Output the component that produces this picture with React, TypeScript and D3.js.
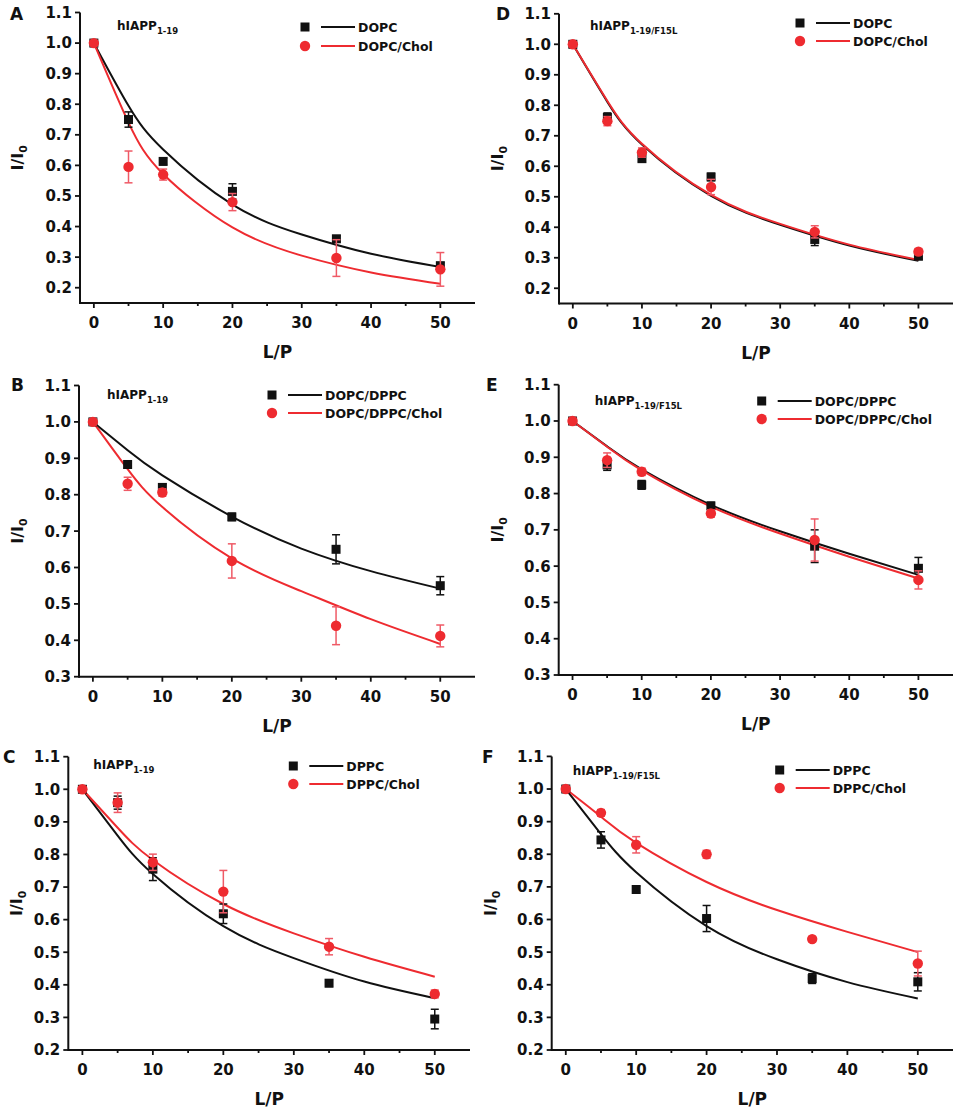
import React from "react";
import * as d3 from "d3";

// ---------- data ----------
const lpValues = [0, 5, 10, 20, 35, 50];
const fitLp = [0, 5, 10, 20, 30, 40, 50];
const xTicks = [0, 10, 20, 30, 40, 50];
const xMinorTicks = [5, 15, 25, 35, 45];
const yTicksA = [0.2, 0.3, 0.4, 0.5, 0.6, 0.7, 0.8, 0.9, 1.0, 1.1];
const yTicksB = [0.3, 0.4, 0.5, 0.6, 0.7, 0.8, 0.9, 1.0, 1.1];

const panelLetters = ["A", "D", "B", "E", "C", "F"];
const peptideSubs = ["1-19", "1-19/F15L", "1-19", "1-19/F15L", "1-19", "1-19/F15L"];
const blackLabels = ["DOPC", "DOPC", "DOPC/DPPC", "DOPC/DPPC", "DPPC", "DPPC"];
const redLabels = ["DOPC/Chol", "DOPC/Chol", "DOPC/DPPC/Chol", "DOPC/DPPC/Chol", "DPPC/Chol", "DPPC/Chol"];

// Panel A
const aBlack = [1.0, 0.75, 0.613, 0.515, 0.36, 0.272];
const aBlackErr = [0.008, 0.025, 0.01, 0.025, 0.01, 0.01];
const aRed = [1.0, 0.595, 0.57, 0.48, 0.297, 0.26];
const aRedErr = [0.008, 0.052, 0.018, 0.028, 0.06, 0.055];
const aBlackFit = [1.0, 0.795, 0.652, 0.472, 0.374, 0.311, 0.268];
const aRedFit = [1.0, 0.74, 0.572, 0.397, 0.305, 0.25, 0.213];

// Panel D
const dBlack = [1.0, 0.76, 0.625, 0.565, 0.36, 0.305];
const dBlackErr = [0.008, 0.015, 0.01, 0.012, 0.02, 0.01];
const dRed = [1.0, 0.748, 0.645, 0.532, 0.385, 0.32];
const dRedErr = [0.008, 0.015, 0.015, 0.025, 0.02, 0.01];
const dBlackFit = [1.0, 0.811, 0.671, 0.503, 0.408, 0.34, 0.29];
const dRedFit = [1.0, 0.814, 0.674, 0.506, 0.411, 0.343, 0.293];

// Panel B
const bBlack = [1.0, 0.883, 0.82, 0.739, 0.65, 0.55];
const bBlackErr = [0.008, 0.01, 0.01, 0.01, 0.04, 0.025];
const bRed = [1.0, 0.83, 0.806, 0.618, 0.44, 0.412];
const bRedErr = [0.008, 0.018, 0.01, 0.047, 0.052, 0.03];
const bBlackFit = [1.0, 0.922, 0.853, 0.74, 0.652, 0.59, 0.542];
const bRedFit = [1.0, 0.87, 0.766, 0.625, 0.535, 0.458, 0.39];

// Panel E
const eBlack = [1.0, 0.879, 0.824, 0.766, 0.655, 0.594];
const eBlackErr = [0.008, 0.015, 0.012, 0.01, 0.045, 0.03];
const eRed = [1.0, 0.892, 0.86, 0.745, 0.672, 0.562];
const eRedErr = [0.008, 0.02, 0.01, 0.01, 0.058, 0.025];
const eBlackFit = [1.0, 0.93, 0.867, 0.769, 0.696, 0.634, 0.576];
const eRedFit = [1.0, 0.929, 0.864, 0.764, 0.69, 0.626, 0.566];

// Panel C
const cBlack = [1.0, 0.959, 0.755, 0.618, 0.405, 0.295];
const cBlackErr = [0.008, 0.02, 0.035, 0.03, 0.01, 0.03];
const cRed = [1.0, 0.959, 0.776, 0.686, 0.517, 0.372];
const cRedErr = [0.008, 0.03, 0.025, 0.065, 0.025, 0.012];
const cBlackFit = [1.0, 0.858, 0.74, 0.58, 0.482, 0.41, 0.359];
const cRedFit = [1.0, 0.882, 0.783, 0.648, 0.558, 0.486, 0.425];

// Panel F
const fBlack = [1.0, 0.844, 0.692, 0.603, 0.419, 0.409];
const fBlackErr = [0.008, 0.025, 0.01, 0.04, 0.015, 0.028];
const fRed = [1.0, 0.927, 0.829, 0.8, 0.54, 0.465];
const fRedErr = [0.008, 0.01, 0.025, 0.012, 0.008, 0.038];
const fBlackFit = [1.0, 0.862, 0.745, 0.58, 0.478, 0.408, 0.358];
const fRedFit = [1.0, 0.915, 0.835, 0.715, 0.629, 0.562, 0.5];

const seriesBlack = [aBlack, dBlack, bBlack, eBlack, cBlack, fBlack];
const seriesBlackErr = [aBlackErr, dBlackErr, bBlackErr, eBlackErr, cBlackErr, fBlackErr];
const seriesRed = [aRed, dRed, bRed, eRed, cRed, fRed];
const seriesRedErr = [aRedErr, dRedErr, bRedErr, eRedErr, cRedErr, fRedErr];
const fitsBlack = [aBlackFit, dBlackFit, bBlackFit, eBlackFit, cBlackFit, fBlackFit];
const fitsRed = [aRedFit, dRedFit, bRedFit, eRedFit, cRedFit, fRedFit];
const yDomains = [[0.15, 1.1], [0.15, 1.1], [0.3, 1.1], [0.3, 1.1], [0.2, 1.1], [0.2, 1.1]];
const yTickSets = [yTicksA, yTicksA, yTicksB, yTicksB, yTicksA, yTicksA];

// ---------- layout (positions only) ----------
const layouts = [
  { left: 80, right: 475, top: 12.5, bottom: 303, letterX: 10, letterY: 20, titleDx: 37, titleDy: 17, legDx: 225, legY: 27, legGap: 19, ylabDx: -57 },
  { left: 559, right: 953, top: 13.8, bottom: 303.5, letterX: 496, letterY: 20, titleDx: 31, titleDy: 16, legDx: 241, legY: 23, legGap: 18, ylabDx: -56 },
  { left: 79, right: 475, top: 385.5, bottom: 676.7, letterX: 11, letterY: 391, titleDx: 28, titleDy: 13, legDx: 193, legY: 395, legGap: 18, ylabDx: -56 },
  { left: 558.7, right: 953, top: 384.7, bottom: 675, letterX: 486, letterY: 391, titleDx: 36, titleDy: 20, legDx: 203, legY: 401, legGap: 18, ylabDx: -56 },
  { left: 68.3, right: 470, top: 756.7, bottom: 1050, letterX: 3, letterY: 763, titleDx: 25, titleDy: 12, legDx: 225, legY: 766, legGap: 18, ylabDx: -46 },
  { left: 551.7, right: 953, top: 756.4, bottom: 1050, letterX: 482, letterY: 763, titleDx: 21, titleDy: 19, legDx: 228, legY: 770, legGap: 18, ylabDx: -56 },
];

const BLACK = "#111";
const RED = "#ee2b30";
const RED_ERR = "#ef5a66";
const FONT = "'DejaVu Sans', 'Liberation Sans', Arial, sans-serif";

function Panel({ i }: { i: number }) {
  const L = layouts[i];
  const x = d3.scaleLinear().domain([-2, 55]).range([L.left, L.right]);
  const y = d3.scaleLinear().domain(yDomains[i]).range([L.bottom, L.top]);
  const line = d3
    .line<[number, number]>()
    .x((d) => x(d[0]))
    .y((d) => y(d[1]))
    .curve(d3.curveNatural);
  const fitB: [number, number][] = fitLp.map((v, k) => [v, fitsBlack[i][k]]);
  const fitR: [number, number][] = fitLp.map((v, k) => [v, fitsRed[i][k]]);
  const capW = 4;

  const errBars = (vals: number[], errs: number[], color: string, key: string) =>
    lpValues.map((lv, k) => {
      const cx = x(lv);
      const y1 = y(vals[k] + errs[k]);
      const y2 = y(vals[k] - errs[k]);
      return (
        <g key={key + k} stroke={color} strokeWidth={1.5}>
          <line x1={cx} x2={cx} y1={y1} y2={y2} />
          <line x1={cx - capW} x2={cx + capW} y1={y1} y2={y1} />
          <line x1={cx - capW} x2={cx + capW} y1={y2} y2={y2} />
        </g>
      );
    });

  const midY = (L.top + L.bottom) / 2;
  const midX = (L.left + L.right) / 2;
  const legX = L.left + L.legDx;

  return (
    <g fontFamily={FONT} fontWeight="bold" fill="#111">
      {/* axes */}
      <line x1={L.left} x2={L.right} y1={L.bottom} y2={L.bottom} stroke={BLACK} strokeWidth={2} />
      <line x1={L.left} x2={L.left} y1={L.top} y2={L.bottom + 1} stroke={BLACK} strokeWidth={2} />
      {xTicks.map((t) => (
        <g key={"xt" + t}>
          <line x1={x(t)} x2={x(t)} y1={L.bottom} y2={L.bottom + 5} stroke={BLACK} strokeWidth={1.8} />
          <text x={x(t)} y={L.bottom + 25} textAnchor="middle" fontSize={15}>
            {t}
          </text>
        </g>
      ))}
      {xMinorTicks.map((t) => (
        <line key={"xm" + t} x1={x(t)} x2={x(t)} y1={L.bottom} y2={L.bottom + 3} stroke={BLACK} strokeWidth={1.8} />
      ))}
      {yTickSets[i].map((t) => (
        <g key={"yt" + t}>
          <line x1={L.left - 5} x2={L.left} y1={y(t)} y2={y(t)} stroke={BLACK} strokeWidth={1.8} />
          <text x={L.left - 8} y={y(t) + 5.4} textAnchor="end" fontSize={15}>
            {d3.format(".1f")(t)}
          </text>
        </g>
      ))}
      {/* axis labels */}
      <text x={midX} y={L.bottom + 55} textAnchor="middle" fontSize={17}>
        L/P
      </text>
      <text transform={`translate(${L.left + L.ylabDx},${midY}) rotate(-90)`} textAnchor="middle" fontSize={16}>
        I/I<tspan fontSize={11} dy={4}>0</tspan>
      </text>
      {/* panel letter */}
      <text x={L.letterX} y={L.letterY} fontSize={17}>
        {panelLetters[i]}
      </text>
      {/* title */}
      <text x={L.left + L.titleDx} y={L.top + L.titleDy} fontSize={12}>
        hIAPP<tspan fontSize={8.5} dy={4}>{peptideSubs[i]}</tspan>
      </text>
      {/* fits */}
      <path d={line(fitB) || ""} fill="none" stroke={BLACK} strokeWidth={2} />
      <path d={line(fitR) || ""} fill="none" stroke={RED} strokeWidth={2} />
      {/* error bars & points */}
      {errBars(seriesBlack[i], seriesBlackErr[i], BLACK, "eb")}
      {lpValues.map((lv, k) => (
        <rect key={"sq" + k} x={x(lv) - 4.5} y={y(seriesBlack[i][k]) - 4.5} width={9} height={9} fill={BLACK} />
      ))}
      {errBars(seriesRed[i], seriesRedErr[i], RED_ERR, "er")}
      {lpValues.map((lv, k) => (
        <circle key={"ci" + k} cx={x(lv)} cy={y(seriesRed[i][k])} r={5.2} fill={RED} />
      ))}
      {/* legend */}
      <rect x={legX - 4.5} y={L.legY - 4.5} width={9} height={9} fill={BLACK} />
      <line x1={legX + 16} x2={legX + 50} y1={L.legY} y2={L.legY} stroke={BLACK} strokeWidth={2} />
      <text x={legX + 53} y={L.legY + 4.7} fontSize={12.5}>
        {blackLabels[i]}
      </text>
      <circle cx={legX} cy={L.legY + L.legGap} r={5.2} fill={RED} />
      <line x1={legX + 16} x2={legX + 50} y1={L.legY + L.legGap} y2={L.legY + L.legGap} stroke={RED} strokeWidth={2} />
      <text x={legX + 53} y={L.legY + L.legGap + 4.7} fontSize={12.5}>
        {redLabels[i]}
      </text>
    </g>
  );
}

export default function App() {
  return (
    <svg
      width={960}
      height={1111}
      viewBox="0 0 960 1111"
      style={{ position: "absolute", left: 0, top: 0, background: "#fff" }}
    >
      <rect x={0} y={0} width={960} height={1111} fill="#fff" />
      {layouts.map((_, i) => (
        <Panel key={i} i={i} />
      ))}
    </svg>
  );
}
